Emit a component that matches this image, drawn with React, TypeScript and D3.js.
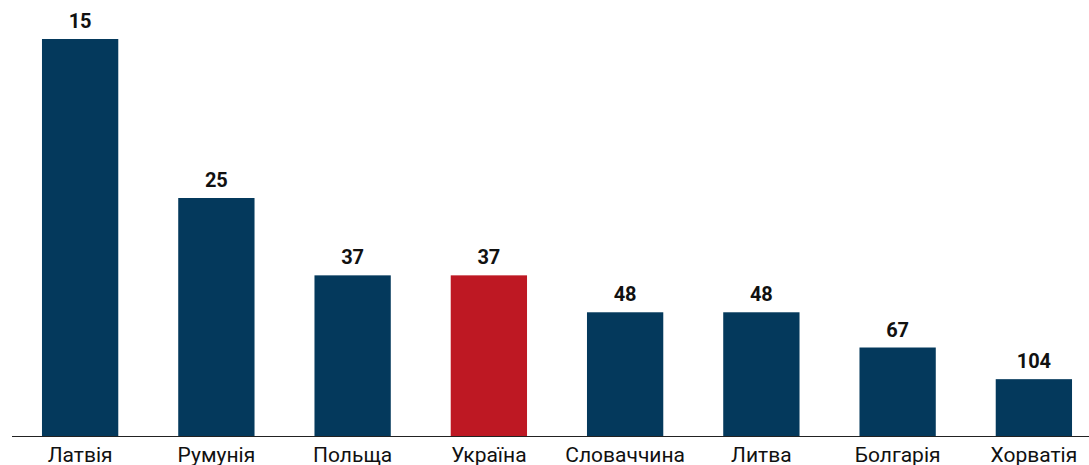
import React, { useEffect, useRef } from "react";
import * as d3 from "d3";

// data
const countries = ["Латвія", "Румунія", "Польща", "Україна", "Словаччина", "Литва", "Болгарія", "Хорватія"];
const values = [15, 25, 37, 37, 48, 48, 67, 104];
const highlight = "Україна";

const W = 1089;
const H = 465;

const App = () => {
  const ref = useRef<SVGSVGElement | null>(null);

  useEffect(() => {
    document.body.style.margin = "0";
    const svg = d3.select(ref.current);
    svg.selectAll("*").remove();

    const baseline = 436.5;

    const x = d3
      .scaleBand<string>()
      .domain(countries)
      .range([12, 1102])
      .paddingInner(0.44)
      .paddingOuter(0.22);

    // bar height goes with 1 / value (fewer = taller)
    const y = d3
      .scaleLinear()
      .domain([0, 1 / 15])
      .range([baseline, 39]);

    const rows = countries.map((c, i) => ({ c, v: values[i] }));

    svg
      .selectAll("rect.bar")
      .data(rows)
      .enter()
      .append("rect")
      .attr("class", "bar")
      .attr("x", (d) => x(d.c)!)
      .attr("width", x.bandwidth())
      .attr("y", (d) => y(1 / d.v))
      .attr("height", (d) => baseline - y(1 / d.v))
      .attr("fill", (d) => (d.c === highlight ? "#BE1823" : "#04395C"));

    // value labels
    svg
      .selectAll("text.val")
      .data(rows)
      .enter()
      .append("text")
      .attr("class", "val")
      .attr("x", (d) => x(d.c)! + x.bandwidth() / 2)
      .attr("y", (d) => y(1 / d.v) - 11)
      .attr("text-anchor", "middle")
      .attr("font-family", "Roboto, sans-serif")
      .attr("font-weight", 700)
      .attr("font-size", 20)
      .attr("fill", "#111")
      .text((d) => d.v);

    // baseline
    svg
      .append("line")
      .attr("x1", 12)
      .attr("x2", W)
      .attr("y1", baseline)
      .attr("y2", baseline)
      .attr("stroke", "#222")
      .attr("stroke-width", 1.2);

    // category labels
    svg
      .selectAll("text.cat")
      .data(countries)
      .enter()
      .append("text")
      .attr("class", "cat")
      .attr("x", (d) => x(d)! + x.bandwidth() / 2)
      .attr("y", 462)
      .attr("text-anchor", "middle")
      .attr("font-family", "Roboto, sans-serif")
      .attr("font-size", 21)
      .attr("fill", "#111")
      .text((d) => d);
  }, []);

  return (
    <div style={{ position: "absolute", left: 0, top: 0 }}>
      <svg ref={ref} width={W} height={H} style={{ display: "block", background: "#fff" }} />
    </div>
  );
};

export default App;
